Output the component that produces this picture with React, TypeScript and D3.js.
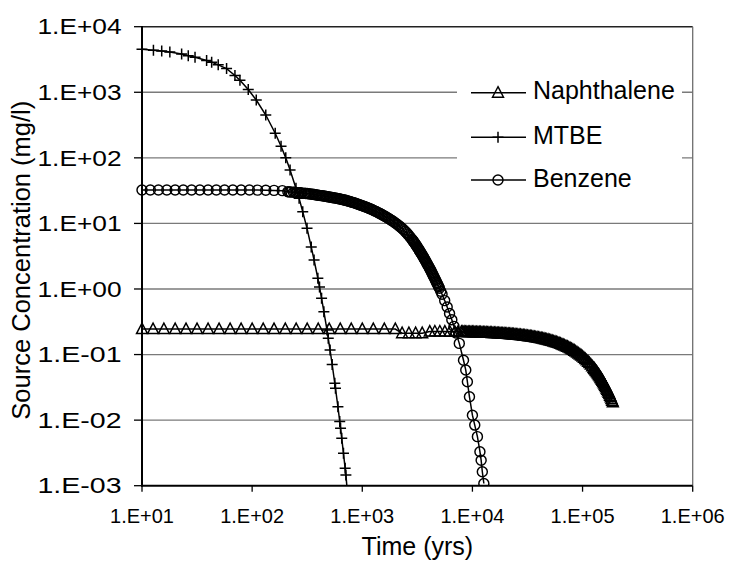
import React from "react";
import * as d3 from "d3";

const xTicks = [1e1, 1e2, 1e3, 1e4, 1e5, 1e6];
const xTickLabels = ["1.E+01", "1.E+02", "1.E+03", "1.E+04", "1.E+05", "1.E+06"];
const yTicks = [1e4, 1e3, 1e2, 1e1, 1e0, 1e-1, 1e-2, 1e-3];
const yTickLabels = ["1.E+04", "1.E+03", "1.E+02", "1.E+01", "1.E+00", "1.E-01", "1.E-02", "1.E-03"];

const seriesNames = ["Naphthalene", "MTBE", "Benzene"];
const xTitle = "Time (yrs)";
const yTitle = "Source Concentration (mg/l)";

// [time (yrs), concentration (mg/l)]
const naphthaleneData: [number, number][] = [
  [10, 0.245], [12.6, 0.245], [15.8, 0.245], [20, 0.245], [25.1, 0.245], [31.6, 0.245], [39.8, 0.245],
  [50.1, 0.245], [63.1, 0.245], [79.4, 0.245], [100, 0.245], [126, 0.245], [158, 0.245], [200, 0.245],
  [251, 0.245], [316, 0.245], [398, 0.245], [501, 0.245], [631, 0.245], [794, 0.245], [1000, 0.245],
  [1259, 0.245], [1585, 0.245], [1995, 0.245], [2300, 0.212], [2650, 0.212], [3050, 0.212], [3500, 0.212],
  [4100, 0.224], [4560, 0.225], [5060, 0.225], [5620, 0.224], [6240, 0.223], [6920, 0.223], [7400, 0.222],
  [7943, 0.222], [8175, 0.2217], [8414, 0.2215], [8660, 0.2212], [8913, 0.221], [9173, 0.2207],
  [9441, 0.2204], [9716, 0.22], [10000, 0.2197], [10292, 0.2194], [10593, 0.2191], [10902, 0.2187],
  [11220, 0.2183], [11548, 0.2179], [11885, 0.2176], [12232, 0.2171], [12589, 0.2167], [12957, 0.2162],
  [13335, 0.2158], [13725, 0.2153], [14125, 0.2149], [14538, 0.2144], [14962, 0.2139], [15400, 0.2133],
  [15849, 0.2128], [16312, 0.2122], [16788, 0.2117], [17278, 0.211], [17783, 0.2104], [18302, 0.2097],
  [18836, 0.2091], [19387, 0.2084], [19953, 0.2077], [20535, 0.2069], [21135, 0.2062], [21752, 0.2053],
  [22387, 0.2045], [23041, 0.2036], [23714, 0.2028], [24406, 0.2018], [25119, 0.2009], [25852, 0.1999],
  [26607, 0.1989], [27384, 0.1978], [28184, 0.1968], [29007, 0.1956], [29854, 0.1945], [30726, 0.1932],
  [31623, 0.192], [32546, 0.1906], [33497, 0.1893], [34474, 0.1879], [35481, 0.1865], [36517, 0.185],
  [37584, 0.1835], [38681, 0.1819], [39811, 0.1803], [40973, 0.1785], [42170, 0.1768], [43400, 0.175],
  [44668, 0.1732], [45972, 0.1712], [47315, 0.1693], [48697, 0.1672], [50119, 0.1651], [51582, 0.1628],
  [53088, 0.1606], [54638, 0.1582], [56234, 0.1559], [57876, 0.1534], [59566, 0.1509], [61306, 0.1481],
  [63096, 0.1454], [64938, 0.1426], [66834, 0.1399], [68785, 0.1369], [70795, 0.134], [72860, 0.1309],
  [74989, 0.1278], [77177, 0.1245], [79433, 0.1213], [81752, 0.1179], [84140, 0.1146], [86596, 0.1111],
  [89125, 0.1076], [91728, 0.1039], [94406, 0.1004], [97163, 0.0966], [100000, 0.093], [102920, 0.0892],
  [105925, 0.0855], [109018, 0.0816], [112202, 0.0779], [115478, 0.074], [118850, 0.0703], [122321, 0.0664],
  [125893, 0.0628], [127718, 0.0609], [129569, 0.059], [131447, 0.0572], [133352, 0.0554], [135285, 0.0535],
  [137246, 0.0517], [139236, 0.05], [141254, 0.0483], [143301, 0.0465], [145378, 0.0447], [147486, 0.043],
  [149624, 0.0414], [151793, 0.0397], [153993, 0.0381], [156225, 0.0365], [158489, 0.035], [160787, 0.0334],
  [163117, 0.0319], [165482, 0.0304], [167880, 0.029], [170314, 0.0276], [172783, 0.0262], [175287, 0.0249],
  [177828, 0.0236], [180406, 0.0223], [183021, 0.021], [185674, 0.0198], [188365, 0.0187],
];

const mtbeData: [number, number][] = [
  [10, 4520], [12.7, 4380], [15.1, 4250], [17.9, 4100], [22.9, 3820], [26.3, 3620], [30.3, 3420],
  [38.6, 3060], [42.9, 2880], [49.2, 2620], [58.6, 2300], [69.8, 1800], [77.5, 1530], [92.2, 1100],
  [109, 763], [133, 450], [162, 237], [183, 150], [202, 100], [221, 65.3], [250, 34.3], [267, 24.1],
  [288, 15.1], [315, 8.42], [344, 4.37], [365, 2.77], [395, 1.455], [409, 1.07], [427, 0.721], [448, 0.45],
  [478, 0.237], [491, 0.177], [510, 0.117], [533, 0.0705], [563, 0.0364], [571, 0.0305], [601, 0.016],
  [624, 0.00952], [635, 0.0075], [651, 0.00528], [675, 0.00312], [699, 0.00184], [710, 0.00146],
  [745, 0.00058],
];

const benzeneData: [number, number][] = [
  [10, 32.3], [11.9, 32.3], [14.1, 32.3], [16.8, 32.3], [20, 32.3], [23.7, 32.3], [28.2, 32.3], [33.5, 32.3],
  [39.8, 32.3], [47.3, 32.3], [56.2, 32.3], [66.8, 32.3], [79.4, 32.3], [94.4, 32.3], [112, 32.2], [133, 32.1],
  [158, 31.9], [188, 31.6], [211, 30.35], [218, 30.26], [224, 30.17], [237, 29.95], [244, 29.82],
  [251, 29.69], [266, 29.42], [274, 29.29], [282, 29.16], [299, 28.81], [307, 28.68], [316, 28.55],
  [325, 28.38], [335, 28.21], [345, 27.98], [355, 27.76], [365, 27.57], [376, 27.38], [387, 27.17],
  [398, 26.97], [410, 26.76], [422, 26.55], [434, 26.36], [447, 26.18], [460, 25.97], [473, 25.77],
  [487, 25.56], [501, 25.36], [516, 25.14], [531, 24.92], [546, 24.71], [562, 24.5], [579, 24.26],
  [596, 24.02], [613, 23.78], [631, 23.54], [649, 23.28], [668, 23.02], [688, 22.75], [708, 22.48],
  [729, 22.17], [750, 21.86], [772, 21.56], [794, 21.26], [817, 20.94], [841, 20.63], [866, 20.29],
  [891, 19.96], [917, 19.62], [944, 19.29], [972, 18.97], [1000, 18.65], [1029, 18.32], [1059, 17.99],
  [1090, 17.64], [1122, 17.3], [1155, 16.95], [1189, 16.61], [1223, 16.26], [1259, 15.91], [1296, 15.54],
  [1334, 15.18], [1373, 14.82], [1413, 14.47], [1454, 14.11], [1496, 13.75], [1540, 13.38], [1585, 13.01],
  [1631, 12.64], [1679, 12.29], [1728, 11.93], [1778, 11.58], [1830, 11.21], [1884, 10.86], [1939, 10.51],
  [1995, 10.17], [2053, 9.81], [2113, 9.46], [2175, 9.09], [2239, 8.74], [2304, 8.37], [2371, 8.02],
  [2440, 7.62], [2512, 7.24], [2585, 6.86], [2661, 6.49], [2738, 6.1], [2818, 5.74], [2859, 5.552],
  [2900, 5.37], [2942, 5.197], [2985, 5.03], [3028, 4.847], [3072, 4.67], [3117, 4.502], [3162, 4.34],
  [3208, 4.177], [3255, 4.02], [3302, 3.867], [3350, 3.72], [3398, 3.572], [3447, 3.43], [3497, 3.297],
  [3548, 3.17], [3600, 3.037], [3652, 2.91], [3705, 2.787], [3758, 2.67], [3813, 2.558], [3868, 2.45],
  [3924, 2.343], [3981, 2.24], [4039, 2.143], [4097, 2.05], [4157, 1.958], [4217, 1.87], [4278, 1.778],
  [4340, 1.69], [4403, 1.611], [4467, 1.535], [4532, 1.461], [4598, 1.39], [4665, 1.322], [4732, 1.258],
  [4800, 1.198], [4870, 1.14], [4941, 1.083], [5012, 1.029], [5154, 0.925], [5300, 0.831], [5600, 0.665],
  [5900, 0.53], [6200, 0.423], [6500, 0.339], [6800, 0.269], [7100, 0.213], [7600, 0.148], [8300, 0.082],
  [8700, 0.058], [9000, 0.0385], [9400, 0.0227], [10000, 0.0119], [10500, 0.0084], [11100, 0.0056],
  [11700, 0.0033], [12000, 0.00245], [12300, 0.00163], [12700, 0.00108],
];

const FONT = "'Liberation Sans', Arial, Helvetica, sans-serif";

type Marker = "triangle" | "plus" | "circle";

function markerEl(kind: Marker, cx: number, cy: number, key: string | number) {
  if (kind === "circle") {
    return <circle key={key} cx={cx} cy={cy} r={5} fill="none" stroke="#000" strokeWidth={1.45} />;
  }
  if (kind === "triangle") {
    return (
      <path
        key={key}
        d={`M${cx},${cy - 6} L${cx + 5.5},${cy + 4.5} L${cx - 5.5},${cy + 4.5} Z`}
        fill="none"
        stroke="#000"
        strokeWidth={1.45}
      />
    );
  }
  return (
    <path
      key={key}
      d={`M${cx - 5.5},${cy} H${cx + 5.5} M${cx},${cy - 5.5} V${cy + 5.5}`}
      fill="none"
      stroke="#000"
      strokeWidth={1.5}
    />
  );
}

export default function App() {
  const W = 729;
  const H = 561;
  const left = 142;
  const right = 692.7;
  const top = 26.7;
  const bottom = 485.7;

  const x = d3.scaleLog().domain([10, 1e6]).range([left, right]);
  const y = d3.scaleLog().domain([1e-3, 1e4]).range([bottom, top]);

  const series: { name: string; data: [number, number][]; marker: Marker }[] = [
    { name: seriesNames[0], data: naphthaleneData, marker: "triangle" },
    { name: seriesNames[1], data: mtbeData, marker: "plus" },
    { name: seriesNames[2], data: benzeneData, marker: "circle" },
  ];

  const lineGen = d3
    .line<[number, number]>()
    .x((d) => x(d[0]))
    .y((d) => y(d[1]));

  const legendRows = [92.7, 137.3, 180];

  return (
    <svg
      width={W}
      height={H}
      style={{ position: "absolute", left: 0, top: 0, background: "#fff" }}
      fontFamily={FONT}
    >
      <rect x={0} y={0} width={W} height={H} fill="#fff" />
      <defs>
        <clipPath id="plotClip">
          <rect x={0} y={top} width={W} height={bottom - top} />
        </clipPath>
      </defs>

      {yTicks.map((v, i) =>
        v > 1e-3 ? (
          <line
            key={"g" + i}
            x1={left}
            x2={right}
            y1={y(v)}
            y2={y(v)}
            stroke={v === 1e4 ? "#222" : "#7a7a7a"}
            strokeWidth={v === 1e4 ? 1.6 : 1.3}
          />
        ) : null
      )}
      <line x1={right} x2={right} y1={top} y2={bottom} stroke="#6e6e6e" strokeWidth={1.3} />

      <rect x={457} y={64} width={225} height={138} fill="#fff" />

      <g clipPath="url(#plotClip)">
        {series.map((s, si) => (
          <g key={"s" + si}>
            <path d={lineGen(s.data) || ""} fill="none" stroke="#000" strokeWidth={1.5} />
            {s.data.map((d, i) => markerEl(s.marker, x(d[0]), y(d[1]), si + "-" + i))}
          </g>
        ))}
      </g>

      <line x1={left} x2={left} y1={top - 0.8} y2={bottom + 1} stroke="#000" strokeWidth={2} />
      <line x1={left - 1} x2={right} y1={bottom} y2={bottom} stroke="#000" strokeWidth={2} />
      {yTicks.map((v, i) => (
        <line key={"yt" + i} x1={left - 8} x2={left} y1={y(v)} y2={y(v)} stroke="#000" strokeWidth={1.3} />
      ))}
      {xTicks.map((v, i) => (
        <line key={"xt" + i} x1={x(v)} x2={x(v)} y1={bottom} y2={bottom + 6} stroke="#000" strokeWidth={1.3} />
      ))}

      {yTicks.map((v, i) => (
        <text
          key={"yl" + i}
          x={121.5}
          y={y(v) + 7.7}
          fontSize={21.5}
          textAnchor="end"
          textLength={84}
          lengthAdjust="spacingAndGlyphs"
          fill="#000"
        >
          {yTickLabels[i]}
        </text>
      ))}
      {xTicks.map((v, i) => (
        <text
          key={"xl" + i}
          x={x(v)}
          y={522.7}
          fontSize={21}
          textAnchor="middle"
          textLength={64}
          lengthAdjust="spacingAndGlyphs"
          fill="#000"
        >
          {xTickLabels[i]}
        </text>
      ))}

      <text x={(left + right) / 2} y={555} fontSize={25} textAnchor="middle" fill="#000">
        {xTitle}
      </text>
      <text
        transform={`translate(30,${(top + bottom) / 2 + 4}) rotate(-90)`}
        fontSize={25.5}
        textAnchor="middle"
        fill="#000"
      >
        {yTitle}
      </text>

      {series.map((s, i) => (
        <g key={"lg" + i}>
          <line x1={471} x2={526} y1={legendRows[i]} y2={legendRows[i]} stroke="#000" strokeWidth={1.5} />
          {markerEl(s.marker, 498, legendRows[i], "lm" + i)}
          <text x={533} y={legendRows[i] + 6.6} fontSize={25} fill="#000">
            {s.name}
          </text>
        </g>
      ))}
    </svg>
  );
}
